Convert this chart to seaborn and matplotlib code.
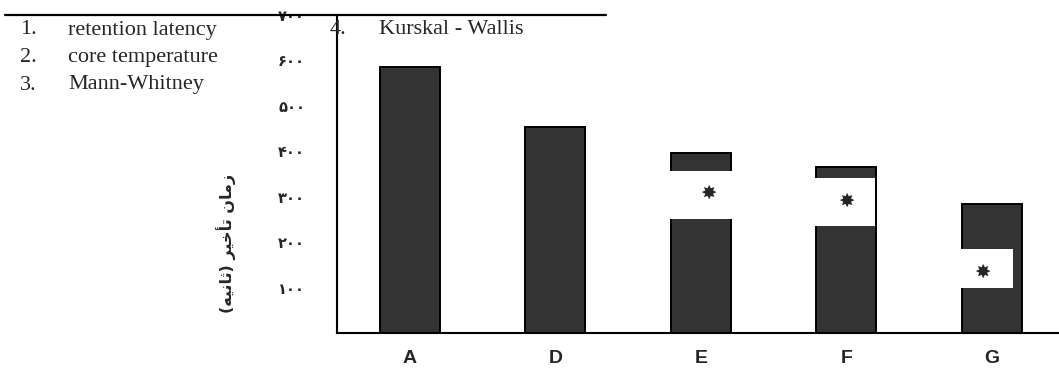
import numpy as np
import pandas as pd
import matplotlib
matplotlib.use('Agg')
import matplotlib.pyplot as plt
from matplotlib.patches import Rectangle
from matplotlib.lines import Line2D
import seaborn as sns

# bar values
categories = ['A', 'D', 'E', 'F', 'G']
latency = [586, 454, 397, 365, 284]

y_ticks = [0, 100, 200, 300, 400, 500, 600, 700]
y_tick_labels = ['', '۱۰۰', '۲۰۰', '۳۰۰', '۴۰۰', '۵۰۰', '۶۰۰', '۷۰۰']

# significance marks (white box with a star) pasted over some bars
sig_cats = ['E', 'F', 'G']
sig_low = [252, 236, 98]
sig_high = [357, 341, 185]
sig_star = [307, 289, 133]

notes_left = ['retention latency', 'core temperature', 'Mann-Whitney']
note_right = 'Kurskal - Wallis'

# "زمان تأخیر (ثانیه)" written in shaped presentation forms, visual order
ylabel = '(\uFEEA\uFEF4\uFEE7\uFE8E\uFE9B) \uFEAE\uFEF4\uFEA7\uFE84\uFE97 \uFEE5\uFE8E\uFEE3\uFEAF'

sns.set_style('white')
plt.rcParams['font.family'] = ['Liberation Serif', 'DejaVu Sans']

df = pd.DataFrame({'group': categories, 'latency': latency})

fig = plt.figure(figsize=(10.59, 3.69), dpi=100)
ax = fig.add_axes([337 / 1059, 36 / 369, 727.5 / 1059, 318 / 369])

sns.barplot(data=df, x='group', y='latency', color='#333333', saturation=1,
            edgecolor='black', linewidth=1.4, width=0.41, ax=ax, zorder=2)

# white boxes + stars
box_x = {'E': (-0.215, 0.43), 'F': (-0.215, 0.415), 'G': (-0.215, 0.36)}
star_dx = {'E': 0.05, 'F': 0.0, 'G': -0.065}
for cat, lo, hi, sy in zip(sig_cats, sig_low, sig_high, sig_star):
    i = categories.index(cat)
    x0, w = box_x[cat]
    ax.add_patch(Rectangle((i + x0, lo), w, hi - lo, facecolor='white',
                           edgecolor='none', zorder=3))
    ax.text(i + star_dx[cat], sy, '✸', family=['DejaVu Sans'], fontsize=14,
            ha='center', va='center', zorder=4)

ax.set_xlim(-0.5, 4.5)
ax.set_ylim(0, 700)
ax.set_xlabel('')

ax.set_xticks(range(len(categories)))
ax.set_xticklabels(categories, family=['Liberation Sans'], fontweight='bold', fontsize=14)
ax.set_xticks(np.arange(-0.5, 4.5, 1), minor=True)
ax.tick_params(axis='x', which='major', length=0, pad=12)
ax.tick_params(axis='x', which='minor', length=5, width=1.2, direction='out', color='black')

ax.set_yticks(y_ticks)
ax.set_yticklabels(y_tick_labels, family=['DejaVu Sans'], fontweight='bold', fontsize=10.5)
ax.tick_params(axis='y', length=3, width=1.2, direction='out', color='black', pad=20)

ax.set_ylabel(ylabel, family=['DejaVu Sans'], fontweight='bold', fontsize=11.5)
ax.yaxis.set_label_coords(-0.139, 0.283)

for side in ['top', 'right']:
    ax.spines[side].set_visible(False)
for side in ['left', 'bottom']:
    ax.spines[side].set_linewidth(1.5)
    ax.spines[side].set_color('black')

# table rule on top
fig.add_artist(Line2D([5 / 1059, 606 / 1059], [1 - 15 / 369, 1 - 15 / 369],
                      color='black', linewidth=1.6))

# numbered notes
for k, note in enumerate(notes_left):
    y = 1 - (30 + 27.5 * k) / 369
    fig.text(20 / 1059, y, f'{k + 1}.', fontsize=16, va='center', ha='left')
    fig.text(68 / 1059, y, note, fontsize=16, va='center', ha='left')
fig.text(330 / 1059, 1 - 30 / 369, '4.', fontsize=16, va='center', ha='left')
fig.text(379 / 1059, 1 - 30 / 369, note_right, fontsize=16, va='center', ha='left')

fig.savefig('out.png', dpi=100)
